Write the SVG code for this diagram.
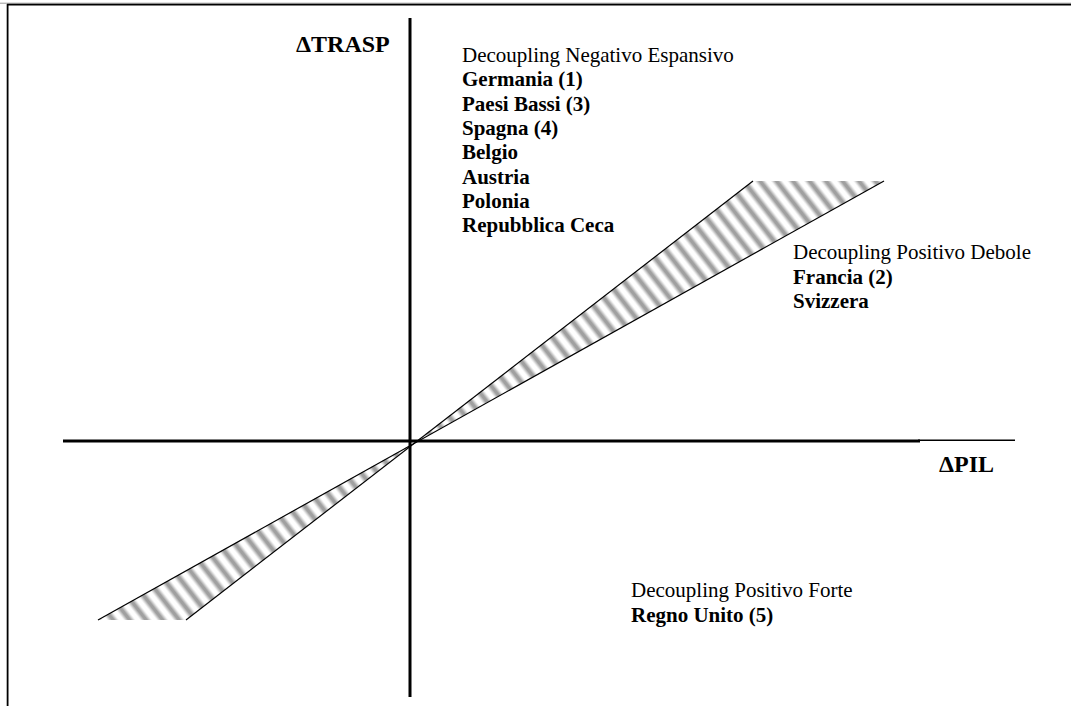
<svg xmlns="http://www.w3.org/2000/svg" width="1071" height="706" viewBox="0 0 1071 706">
  <style>
    text { font-family: "Liberation Serif", "Times New Roman", serif; fill: #000; }
    .reg { font-size: 21px; }
    .b { font-size: 21px; font-weight: bold; }
    .axl { font-size: 24px; font-weight: bold; }
    .edge { stroke: #000; stroke-width: 1.2; fill: none; }
  </style>
  <defs>
    <!-- soft grey stripe across one pattern tile -->
    <linearGradient id="stripeGrad" x1="0" y1="0" x2="1" y2="0">
      <stop offset="0" stop-color="#ffffff"/>
      <stop offset="0.15" stop-color="#ffffff"/>
      <stop offset="0.42" stop-color="#a0a0a0"/>
      <stop offset="0.58" stop-color="#a0a0a0"/>
      <stop offset="0.85" stop-color="#ffffff"/>
      <stop offset="1" stop-color="#ffffff"/>
    </linearGradient>
    <pattern id="hatch" patternUnits="userSpaceOnUse" width="13" height="40" patternTransform="rotate(-38)">
      <rect x="0" y="0" width="13" height="40" fill="url(#stripeGrad)"/>
    </pattern>
  </defs>

  <rect x="0" y="0" width="1071" height="706" fill="#ffffff"/>

  <!-- outer frame: top and left rules only -->
  <g id="frame">
    <line x1="0" y1="3.2" x2="1071" y2="3.2" stroke="#9a9a9a" stroke-width="1"/>
    <line x1="7" y1="4.6" x2="1071" y2="4.6" stroke="#000" stroke-width="1.8"/>
    <line x1="7.6" y1="4" x2="7.6" y2="706" stroke="#000" stroke-width="1.8"/>
  </g>

  <!-- hatched decoupling band through the origin -->
  <g id="band">
    <polygon points="753,181 884,181 413,443.5" fill="url(#hatch)"/>
    <polygon points="98,620 186,620 413,443.5" fill="url(#hatch)"/>
    <line class="edge" x1="98" y1="620" x2="884" y2="181"/>
    <line class="edge" x1="186" y1="620" x2="753" y2="181"/>
  </g>

  <!-- axes -->
  <g id="axes">
    <line x1="63" y1="441" x2="920" y2="441" stroke="#000" stroke-width="3"/>
    <line x1="918" y1="440.2" x2="1015" y2="440.2" stroke="#000" stroke-width="1.4"/>
    <line x1="410" y1="18" x2="410" y2="697" stroke="#000" stroke-width="3"/>
  </g>

  <g id="axis-labels">
    <text class="axl" x="296" y="51.5">ΔTRASP</text>
    <text class="axl" x="939" y="472">ΔPIL</text>
  </g>

  <g id="negativo-espansivo">
    <text class="reg" x="462" y="61.5">Decoupling Negativo Espansivo</text>
    <text class="b" x="462" y="86">Germania (1)</text>
    <text class="b" x="462" y="110.5">Paesi Bassi (3)</text>
    <text class="b" x="462" y="135">Spagna (4)</text>
    <text class="b" x="462" y="159">Belgio</text>
    <text class="b" x="462" y="183.5">Austria</text>
    <text class="b" x="462" y="208">Polonia</text>
    <text class="b" x="462" y="232">Repubblica Ceca</text>
  </g>

  <g id="positivo-debole">
    <text class="reg" x="793" y="259">Decoupling Positivo Debole</text>
    <text class="b" x="793" y="283.5">Francia (2)</text>
    <text class="b" x="793" y="308">Svizzera</text>
  </g>

  <g id="positivo-forte">
    <text class="reg" x="631" y="597">Decoupling Positivo Forte</text>
    <text class="b" x="631" y="621.5">Regno Unito (5)</text>
  </g>
</svg>
